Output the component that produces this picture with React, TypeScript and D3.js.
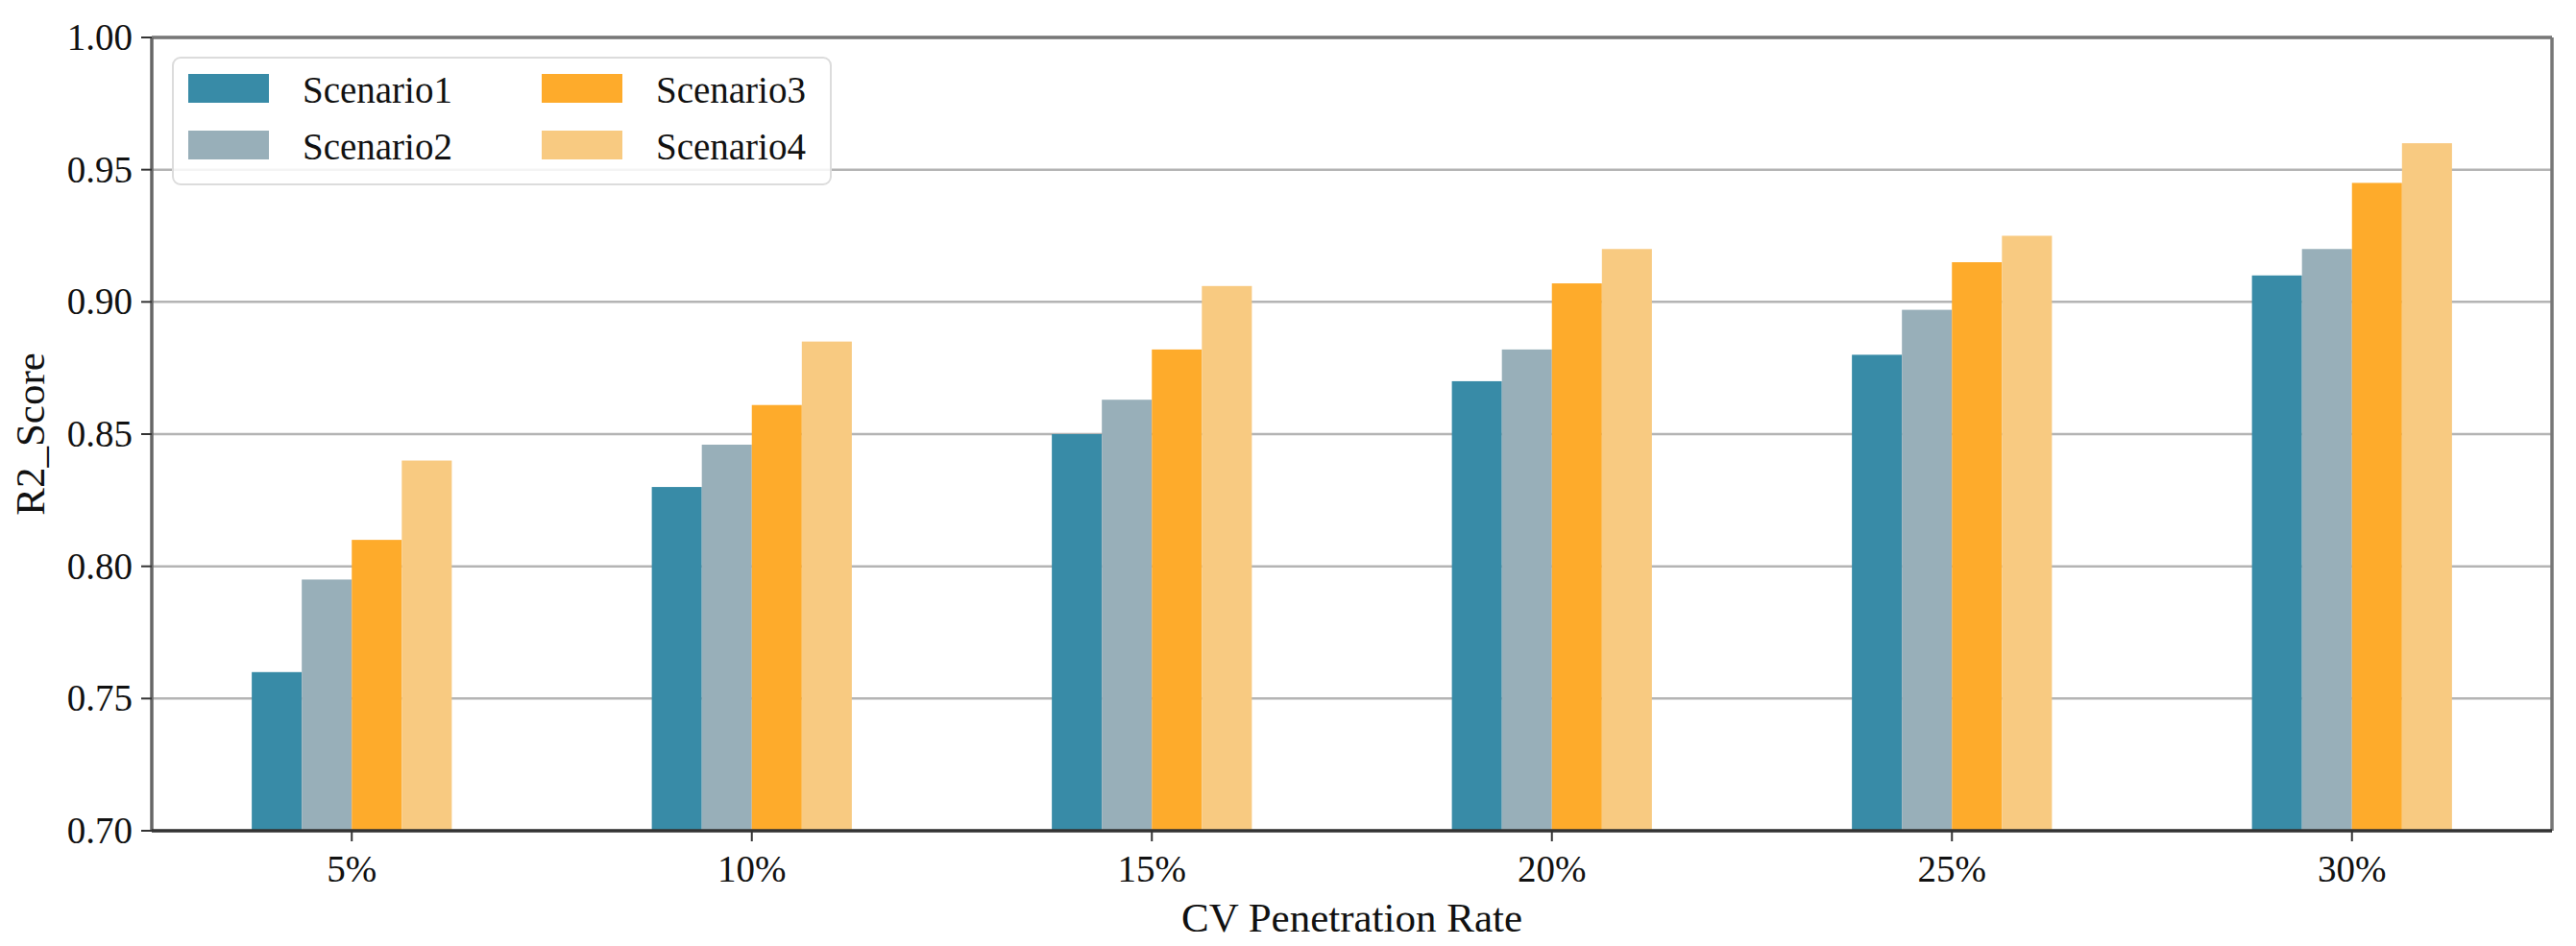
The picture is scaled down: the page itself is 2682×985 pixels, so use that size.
import { useEffect, useRef } from 'react';
import * as d3 from 'd3';

const WIDTH = 2682;
const HEIGHT = 985;
const MARGIN = { top: 39, right: 25, bottom: 120, left: 158 };
const FONT = '"Liberation Serif", "Times New Roman", serif';
const FONT_SIZE = 39;
const LABEL_SIZE = 43;

const categories = ['5%', '10%', '15%', '20%', '25%', '30%'];
const seriesNames = ['Scenario1', 'Scenario2', 'Scenario3', 'Scenario4'];
const scenario1 = [0.76, 0.83, 0.85, 0.87, 0.88, 0.91];
const scenario2 = [0.795, 0.846, 0.863, 0.882, 0.897, 0.92];
const scenario3 = [0.81, 0.861, 0.882, 0.907, 0.915, 0.945];
const scenario4 = [0.84, 0.885, 0.906, 0.92, 0.925, 0.96];
const colors = ['#388BA7', '#98AFB9', '#FEAB2B', '#F8CA81'];
const yTicks = [0.7, 0.75, 0.8, 0.85, 0.9, 0.95, 1.0];

export default function App() {
  const svgRef = useRef<SVGSVGElement>(null);

  useEffect(() => {
    if (!svgRef.current) return;
    const svg = d3.select(svgRef.current);
    svg.selectAll('*').remove();

    const series = [scenario1, scenario2, scenario3, scenario4];
    const plotW = WIDTH - MARGIN.left - MARGIN.right;
    const plotH = HEIGHT - MARGIN.top - MARGIN.bottom;

    const x = d3.scalePoint<string>().domain(categories).range([0, plotW]).padding(0.5);
    const step = x.step();
    const barW = step * 0.125;
    const y = d3.scaleLinear().domain([0.7, 1.0]).range([plotH, 0]);

    const g = svg
      .append('g')
      .attr('transform', `translate(${MARGIN.left},${MARGIN.top})`);

    // grid
    g.append('g')
      .selectAll('line')
      .data(yTicks)
      .join('line')
      .attr('x1', 0)
      .attr('x2', plotW)
      .attr('y1', (d) => y(d))
      .attr('y2', (d) => y(d))
      .attr('stroke', '#b4b4b4')
      .attr('stroke-width', 2.5);

    // bars
    series.forEach((vals, si) => {
      g.append('g')
        .selectAll('rect')
        .data(vals)
        .join('rect')
        .attr('x', (_, i) => x(categories[i])! - 2 * barW + si * barW)
        .attr('y', (d) => y(d))
        .attr('width', barW)
        .attr('height', (d) => plotH - y(d))
        .attr('fill', colors[si]);
    });

    // spines
    const spine = g.append('g').attr('fill', 'none');
    spine.append('line').attr('x1', 0).attr('x2', plotW).attr('y1', 0).attr('y2', 0)
      .attr('stroke', '#777').attr('stroke-width', 3.5);
    spine.append('line').attr('x1', plotW).attr('x2', plotW).attr('y1', 0).attr('y2', plotH)
      .attr('stroke', '#777').attr('stroke-width', 3.5);
    spine.append('line').attr('x1', 0).attr('x2', 0).attr('y1', 0).attr('y2', plotH)
      .attr('stroke', '#666').attr('stroke-width', 3.5);
    spine.append('line').attr('x1', 0).attr('x2', plotW).attr('y1', plotH).attr('y2', plotH)
      .attr('stroke', '#333').attr('stroke-width', 3.5);

    // y ticks
    const yt = g.append('g').selectAll('g').data(yTicks).join('g')
      .attr('transform', (d) => `translate(0,${y(d)})`);
    yt.append('line').attr('x1', -11).attr('x2', 0).attr('stroke', '#333').attr('stroke-width', 2);
    yt.append('text')
      .attr('x', -20)
      .attr('dy', '0.33em')
      .attr('text-anchor', 'end')
      .attr('font-size', FONT_SIZE)
      .attr('fill', '#111')
      .text((d) => d.toFixed(2));

    // x ticks
    const xt = g.append('g').selectAll('g').data(categories).join('g')
      .attr('transform', (d) => `translate(${x(d)},${plotH})`);
    xt.append('line').attr('y1', 0).attr('y2', 11).attr('stroke', '#333').attr('stroke-width', 2);
    xt.append('text')
      .attr('y', 53)
      .attr('text-anchor', 'middle')
      .attr('font-size', FONT_SIZE)
      .attr('fill', '#111')
      .text((d) => d);

    // axis labels
    svg.append('text')
      .attr('x', MARGIN.left + plotW / 2)
      .attr('y', 970)
      .attr('text-anchor', 'middle')
      .attr('font-size', LABEL_SIZE)
      .attr('fill', '#111')
      .text('CV Penetration Rate');

    svg.append('text')
      .attr('transform', `translate(46,${MARGIN.top + plotH / 2}) rotate(-90)`)
      .attr('text-anchor', 'middle')
      .attr('font-size', LABEL_SIZE)
      .attr('fill', '#111')
      .text('R2_Score');

    // legend
    const legend = svg.append('g');
    legend.append('rect')
      .attr('x', 180)
      .attr('y', 60)
      .attr('width', 685)
      .attr('height', 132)
      .attr('rx', 8)
      .attr('fill', 'white')
      .attr('fill-opacity', 0.85)
      .attr('stroke', '#dcdcdc')
      .attr('stroke-width', 2);

    seriesNames.forEach((name, i) => {
      const col = Math.floor(i / 2);
      const row = i % 2;
      const lx = 196 + col * 368;
      const ly = 77 + row * 59;
      legend.append('rect')
        .attr('x', lx)
        .attr('y', ly)
        .attr('width', 84)
        .attr('height', 30)
        .attr('fill', colors[i]);
      legend.append('text')
        .attr('x', lx + 119)
        .attr('y', ly + 30)
        .attr('font-size', FONT_SIZE)
        .attr('fill', '#111')
        .text(name);
    });
  }, []);

  return (
    <svg
      ref={svgRef}
      width={WIDTH}
      height={HEIGHT}
      style={{ position: 'absolute', left: 0, top: 0, background: 'white', fontFamily: FONT }}
    />
  );
}
